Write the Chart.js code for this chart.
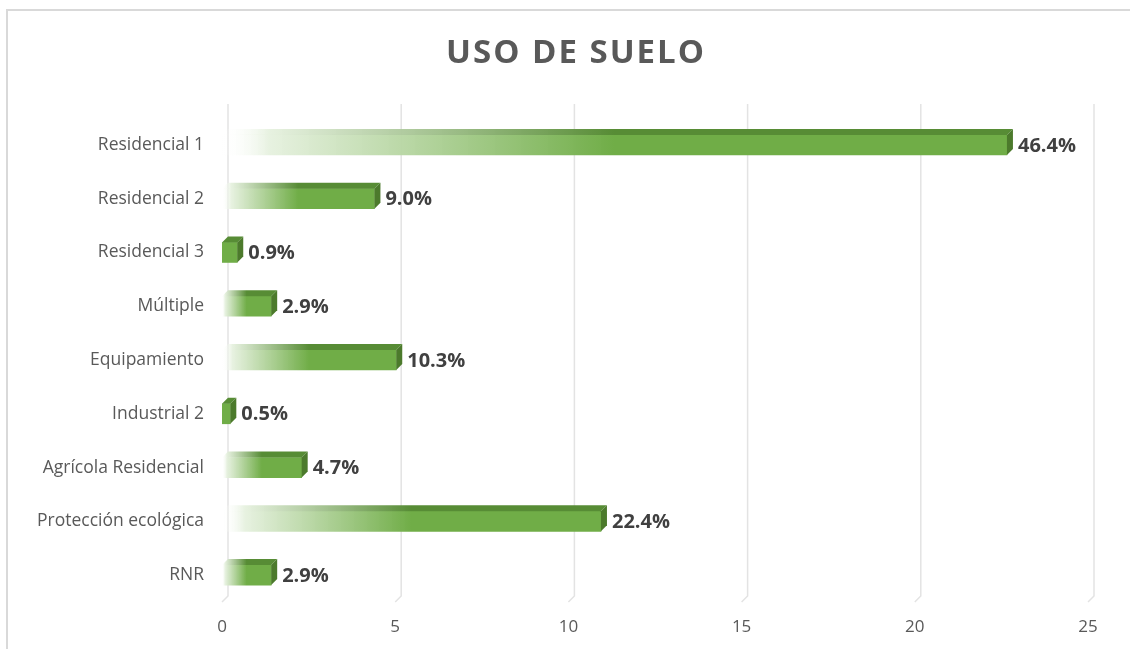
<!DOCTYPE html>
<html>
<head>
<meta charset="utf-8">
<script src="https://cdn.jsdelivr.net/npm/chart.js@4"></script>
<style>
  html, body { margin: 0; padding: 0; background: #fff; }
  #wrap { width: 1130px; height: 649px; position: relative; }
</style>
</head>
<body>
<div id="wrap"><canvas id="usoChart"></canvas></div>
<script>
var chartTitle = 'USO DE SUELO';
var categories = ['Residencial 1', 'Residencial 2', 'Residencial 3', 'Múltiple', 'Equipamiento',
                  'Industrial 2', 'Agrícola Residencial', 'Protección ecológica', 'RNR'];
var values = [22.66, 4.40, 0.44, 1.42, 5.03, 0.24, 2.30, 10.94, 1.42];
var percentLabels = ['46.4%', '9.0%', '0.9%', '2.9%', '10.3%', '0.5%', '4.7%', '22.4%', '2.9%'];
var xTicks = [0, 5, 10, 15, 20, 25];

var DEPTH = 6;
var green = '#70ad47';

// gradient fill: pale on the left, full green from the middle of the bar
function barGradient(ctx, x0, x1, c) {
  if (x1 - x0 < 30) return c; // tiny bars stay solid
  var g = ctx.createLinearGradient(x0, 0, x1, 0);
  g.addColorStop(0, 'rgba(255,255,255,0)');
  g.addColorStop(0.06, 'rgba(230,241,223,0.95)');
  g.addColorStop(0.5, c);
  g.addColorStop(1, c);
  return g;
}

// light frame and the title
var framePlugin = {
  id: 'frame',
  beforeDraw: function (chart) {
    var c = chart.ctx;
    c.save();
    c.strokeStyle = '#d9d9d9';
    c.lineWidth = 2;
    c.beginPath();
    c.moveTo(7, chart.height);
    c.lineTo(7, 10);
    c.lineTo(chart.width, 10);
    c.stroke();

    c.font = 'bold 33px "Open Sans"';
    c.fillStyle = '#595959';
    c.textAlign = 'center';
    c.textBaseline = 'middle';
    c.letterSpacing = '2px';
    c.fillText(chartTitle, 576, 54);
    c.restore();
  }
};

// 3d back-wall gridlines
var gridPlugin = {
  id: 'grid3d',
  beforeDatasetsDraw: function (chart) {
    var c = chart.ctx, xs = chart.scales.x, a = chart.chartArea;
    c.save();
    c.strokeStyle = '#e3e3e3';
    c.lineWidth = 1.5;
    xTicks.forEach(function (v) {
      var px = xs.getPixelForValue(v);
      c.beginPath();
      c.moveTo(px + DEPTH, a.top - 14);
      c.lineTo(px + DEPTH, a.bottom - DEPTH);
      c.lineTo(px, a.bottom);
      c.stroke();
    });
    c.restore();
  }
};

// top and side faces of the bars, plus the value labels
var barsPlugin = {
  id: 'bars3d',
  afterDatasetsDraw: function (chart) {
    var c = chart.ctx;
    var meta = chart.getDatasetMeta(0);
    c.save();
    meta.data.forEach(function (bar, i) {
      var top = bar.y - bar.height / 2, bot = bar.y + bar.height / 2;
      var x0 = bar.base, x1 = bar.x;
      // top face
      c.beginPath();
      c.moveTo(x0, top);
      c.lineTo(x1, top);
      c.lineTo(x1 + DEPTH, top - DEPTH);
      c.lineTo(x0 + DEPTH, top - DEPTH);
      c.closePath();
      c.fillStyle = barGradient(c, x0, x1, '#578c35');
      c.fill();
      // side face
      c.beginPath();
      c.moveTo(x1, top);
      c.lineTo(x1 + DEPTH, top - DEPTH);
      c.lineTo(x1 + DEPTH, bot - DEPTH);
      c.lineTo(x1, bot);
      c.closePath();
      c.fillStyle = '#4c7a2c';
      c.fill();
      // label
      c.font = 'bold 20px "Open Sans"';
      c.fillStyle = '#404040';
      c.textAlign = 'left';
      c.textBaseline = 'middle';
      c.fillText(percentLabels[i], x1 + DEPTH + 5, bar.y + 1);
    });
    c.restore();
  }
};

var ctx = document.getElementById('usoChart').getContext('2d');
var usoChart = new Chart(ctx, {
  type: 'bar',
  data: {
    labels: categories,
    datasets: [{
      data: values,
      barThickness: 20,
      borderWidth: 0,
      backgroundColor: function (context) {
        var chart = context.chart, xs = chart.scales.x;
        if (!chart.chartArea || !xs || typeof context.raw !== 'number') return green;
        return barGradient(chart.ctx, xs.getPixelForValue(0), xs.getPixelForValue(context.raw), green);
      }
    }]
  },
  options: {
    indexAxis: 'y',
    responsive: true,
    maintainAspectRatio: false,
    animation: false,
    layout: { padding: { top: 118, right: 42, bottom: 0, left: 0 } },
    scales: {
      x: {
        min: 0,
        max: 25,
        afterBuildTicks: function (axis) {
          axis.ticks = xTicks.map(function (v) { return { value: v }; });
        },
        afterFit: function (axis) { axis.height = 47; },
        grid: { display: false, drawTicks: false },
        border: { display: false },
        ticks: {
          padding: 15,
          color: '#595959',
          font: { family: '"Open Sans"', size: 17 }
        }
      },
      y: {
        afterFit: function (axis) { axis.width = 222; },
        grid: { display: false, drawTicks: false },
        border: { display: false },
        ticks: {
          padding: 18,
          color: '#595959',
          font: { family: '"Open Sans"', size: 17.5 }
        }
      }
    },
    plugins: {
      legend: { display: false },
      tooltip: { enabled: false },
      title: { display: false }
    }
  },
  plugins: [framePlugin, gridPlugin, barsPlugin]
});
</script>
</body>
</html>
